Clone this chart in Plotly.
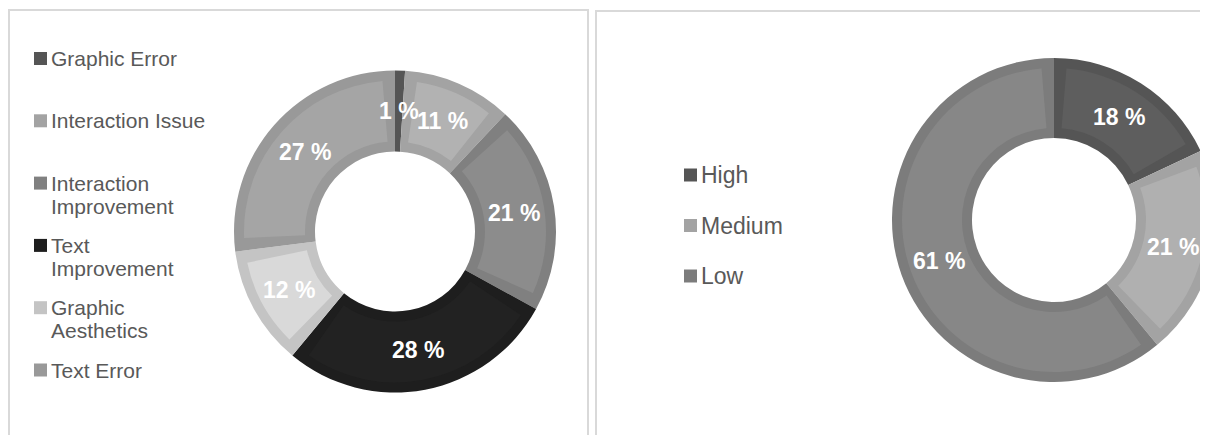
import math
import plotly.graph_objects as go

W, H = 1208, 435
OFF = 8  # page offset of the plot inside the browser body

# ---- Left chart: issue types ----
issue_types = ["Graphic Error", "Interaction Issue", "Interaction Improvement",
               "Text Improvement", "Graphic Aesthetics", "Text Error"]
issue_shares = [1, 11, 21, 28, 12, 27]
issue_fill = ["#595959", "#b2b2b2", "#8c8c8c", "#222222", "#d9d9d9", "#a5a5a5"]
issue_edge = ["#555555", "#a3a3a3", "#808080", "#1e1e1e", "#c4c4c4", "#999999"]
issue_wrap = [False, False, True, True, True, False]

# ---- Right chart: severity ----
severity_levels = ["High", "Medium", "Low"]
severity_shares = [18, 21, 61]
severity_fill = ["#5e5e5e", "#b0b0b0", "#878787"]
severity_edge = ["#555555", "#a3a3a3", "#7c7c7c"]
severity_wrap = [False, False, False]

CLEAR = "rgba(0,0,0,0)"
FONT = "Liberation Sans, Arial, sans-serif"
TEXT_COL = "#595959"


def px(x):
    return (x - OFF) / W


def py(y):
    return 1 - (y - OFF) / H


def dom(cx, cy, rad):
    return dict(x=[max(0, px(cx - rad)), min(1, px(cx + rad))],
                y=[max(0, py(cy + rad)), min(1, py(cy - rad))])


def donut(fig, names, values, fills, edges, cx, cy, R, r, band, fsize):
    common = dict(sort=False, direction="clockwise", rotation=0,
                  hoverinfo="skip", showlegend=False, textinfo="none")
    # outer layer: border colours over the full ring
    fig.add_trace(go.Pie(labels=names, values=values,
                         marker=dict(colors=edges, line=dict(width=0)),
                         domain=dom(cx, cy, R), hole=r / R, **common))
    # inset layer: fill colours, inset radially and angularly
    Ri, ri = R - band, r + band
    total = sum(values)
    gap = band / ((Ri + ri) / 2) / (2 * math.pi) * total
    vals, cols, labs = [], [], []
    for n, v, c in zip(names, values, fills):
        core = v - 2 * gap
        if core > 0:
            vals += [gap, core, gap]
            cols += [CLEAR, c, CLEAR]
            labs += [n + " a", n + " fill", n + " b"]
        else:
            vals += [v]
            cols += [CLEAR]
            labs += [n + " a"]
    fig.add_trace(go.Pie(labels=labs, values=vals,
                         marker=dict(colors=cols, line=dict(width=0)),
                         domain=dom(cx, cy, Ri), hole=ri / Ri, **common))
    # percentage labels at the middle of the ring
    rm = (R + r) / 2
    cum = 0
    for v in values:
        ang = 2 * math.pi * (cum + v / 2) / total
        cum += v
        fig.add_annotation(x=px(cx + rm * math.sin(ang)), y=py(cy - rm * math.cos(ang)),
                           xref="paper", yref="paper", xanchor="center", yanchor="middle",
                           text=f"{v} %", showarrow=False,
                           font=dict(size=fsize, color="white", family=FONT, weight="bold"))


def legend(fig, names, colors, wraps, x_sw, y0, step, line_gap, fsize):
    for i, (n, c, w) in enumerate(zip(names, colors, wraps)):
        yc = y0 + step * i
        fig.add_shape(type="rect", xref="paper", yref="paper",
                      x0=px(x_sw), x1=px(x_sw + 13),
                      y0=py(yc + 6.5), y1=py(yc - 6.5),
                      fillcolor=c, line=dict(width=0))
        lines = n.split(" ", 1) if w else [n]
        for j, ln in enumerate(lines):
            fig.add_annotation(x=px(x_sw + 15), y=py(yc + line_gap * j),
                               xref="paper", yref="paper", xanchor="left", yanchor="middle",
                               text=ln, showarrow=False,
                               font=dict(size=fsize, color=TEXT_COL, family=FONT))


fig = go.Figure()

# panel frames
fig.add_shape(type="rect", xref="paper", yref="paper",
              x0=px(9), x1=px(588), y0=py(460), y1=py(10),
              line=dict(color="#d9d9d9", width=2), fillcolor=CLEAR, layer="below")
fig.add_shape(type="rect", xref="paper", yref="paper",
              x0=px(596), x1=px(1230), y0=py(460), y1=py(11),
              line=dict(color="#d9d9d9", width=2), fillcolor=CLEAR, layer="below")

donut(fig, issue_types, issue_shares, issue_fill, issue_edge,
      cx=395, cy=231.5, R=161, r=80, band=10, fsize=23)
donut(fig, severity_levels, severity_shares, severity_fill, severity_edge,
      cx=1054, cy=220, R=162, r=82, band=10, fsize=23)

legend(fig, issue_types, issue_edge, issue_wrap, x_sw=34, y0=58.5, step=62.3,
       line_gap=23, fsize=21)
legend(fig, severity_levels, severity_edge, severity_wrap, x_sw=684, y0=175, step=50.5,
       line_gap=25, fsize=23)

fig.update_layout(width=W, height=H, margin=dict(l=0, r=0, t=0, b=0),
                  paper_bgcolor="white", plot_bgcolor="white",
                  font=dict(family=FONT))

fig.write_html("out.html")
